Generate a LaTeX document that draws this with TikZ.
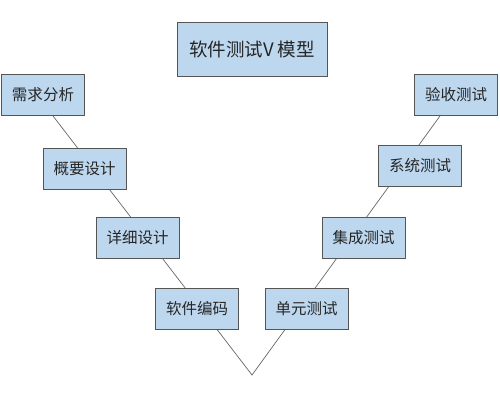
\documentclass[tikz,border=0pt]{standalone}
\usepackage{fontspec}
\setmainfont{Noto Sans CJK SC}
\usepackage{tikz}
\usetikzlibrary{calc, backgrounds}
\definecolor{boxblue}{RGB}{189,215,238}
\definecolor{boxline}{RGB}{85,85,85}

\begin{document}
\begin{tikzpicture}[x=1pt, y=-1pt,
    stage/.style={draw=boxline, line width=0.9pt, fill=boxblue, minimum width=83pt, minimum height=41pt, inner sep=0pt, text=black!85, font=\fontsize{15.5}{17}\selectfont},
    vline/.style={draw=boxline!90, line width=0.7pt}]
  \useasboundingbox (0,0) rectangle (500,402);
  \node[stage, minimum width=150pt, minimum height=54pt, font=\fontsize{18.5}{20}\selectfont] (title) at (252,49) {软件测试V 模型};
  % left leg
  \node[stage] (req)    at (43,95)      {需求分析};
  \node[stage] (design) at (84.5,168.5) {概要设计};
  \node[stage] (detail) at (137.5,237.5){详细设计};
  \node[stage] (code)   at (197,309)    {软件编码};
  % right leg
  \node[stage] (unit)   at (306.5,309)  {单元测试};
  \node[stage] (integ)  at (363.5,237.5){集成测试};
  \node[stage] (sys)    at (420,165.5)  {系统测试};
  \node[stage] (accept) at (456,95)     {验收测试};
  \coordinate (v) at (252,375);
  \begin{pgfonlayer}{background}
    \draw[vline] ($(req.south)+(10,0)$) -- (v) -- ($(accept.south)+(-16,0)$);
  \end{pgfonlayer}
\end{tikzpicture}
\end{document}
